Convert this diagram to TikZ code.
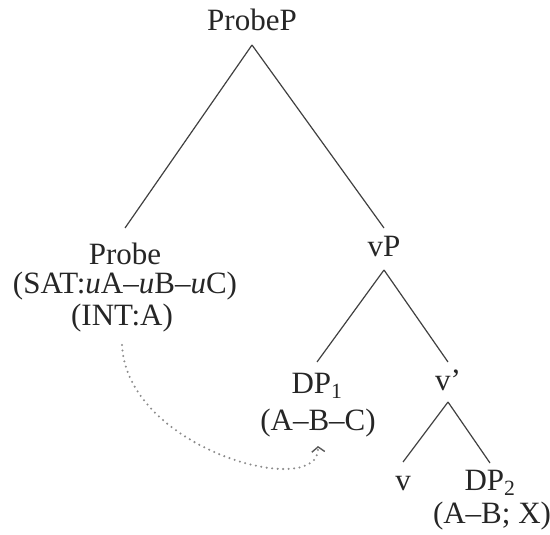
\documentclass[tikz,border=0pt]{standalone}
\usepackage{fontspec}
\setmainfont{Liberation Serif}
\usetikzlibrary{arrows.meta}
\begin{document}
\begin{tikzpicture}[x=1pt,y=-1pt,
  lbl/.style={anchor=base,inner sep=0pt,text=black!85,font=\fontsize{31}{36}\selectfont},
  branch/.style={draw=black!75,line width=1.2pt},
  movement/.style={draw=black!45,line cap=round,dash pattern=on 0pt off 5.5pt,line width=2.3pt,
    -{Straight Barb[length=5pt,width=13pt,line width=1.4pt,color=black!65]}}]
\useasboundingbox (0,0) rectangle (550,535);
% nodes
\node[lbl] (probep) at (252,31) {ProbeP};
\node[lbl] (probe) at (125,265) {Probe};
\node[lbl] (probesat) at (125,294) {(SAT:\textit{u}A–\textit{u}B–\textit{u}C)};
\node[lbl] (probeint) at (122,325) {(INT:A)};
\node[lbl] (vp) at (384,257) {vP};
\node[lbl] (dp1) at (317,393) {DP\textsubscript{1}};
\node[lbl] (dp1feat) at (318,430) {(A–B–C)};
\node[lbl] (vbar) at (448,390) {v'};
\node[lbl] (v) at (403,490) {v};
\node[lbl] (dp2) at (490,490) {DP\textsubscript{2}};
\node[lbl] (dp2feat) at (492,523) {(A–B; X)};
% branches
\draw[branch] ([yshift=-14pt]probep.base) -- ([yshift=37pt]probe.base);
\draw[branch] ([yshift=-14pt]probep.base) -- ([yshift=29pt]vp.base);
\draw[branch] ([yshift=-13pt]vp.base) -- ([yshift=31pt]dp1.base);
\draw[branch] ([yshift=-13pt]vp.base) -- ([yshift=28pt]vbar.base);
\draw[branch] ([yshift=-12pt]vbar.base) -- ([yshift=28pt]v.base);
\draw[branch] ([yshift=-12pt]vbar.base) -- ([yshift=27pt]dp2.base);
% movement
\draw[movement] ([yshift=-20pt]probeint.base) .. controls +(5,105) and +(3,55) .. ([yshift=-16pt]dp1feat.base);
\end{tikzpicture}
\end{document}
